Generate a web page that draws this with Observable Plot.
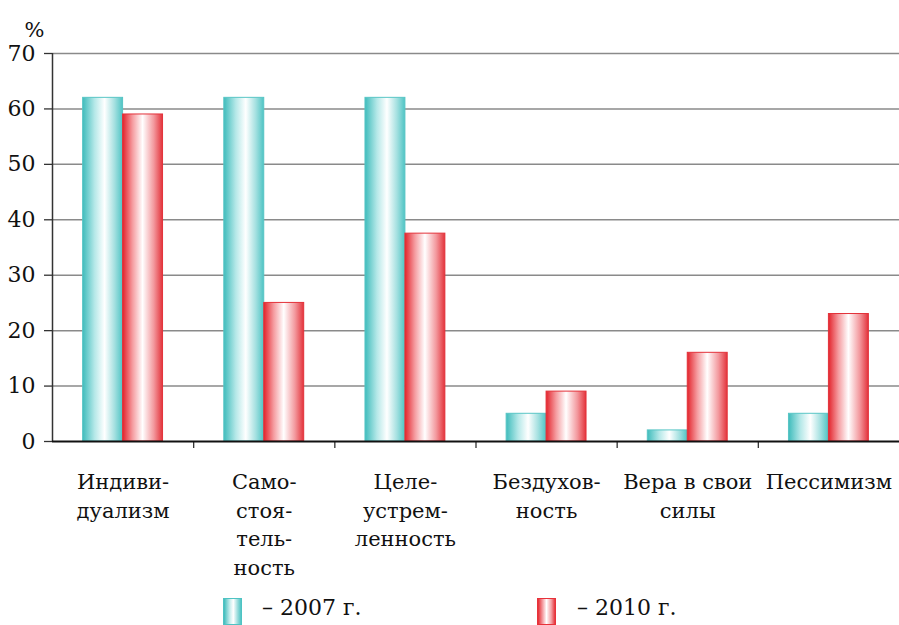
<!DOCTYPE html>
<html>
<head>
<meta charset="utf-8">
<script src="https://cdn.jsdelivr.net/npm/d3@7"></script>
<script src="https://cdn.jsdelivr.net/npm/@observablehq/plot@0.6"></script>
<style>
  body { margin: 0; background: #fff; font-family: "DejaVu Serif", serif; }
  #legend { position: relative; height: 35px; width: 899px; font-size: 22px; color: #111; }
  #legend .sw { position: absolute; top: 8px; width: 19px; height: 27px; box-sizing: border-box; }
  #legend .lb { position: absolute; top: 5px; line-height: 26px; white-space: nowrap; }
</style>
</head>
<body>
<div id="chart"></div>
<div id="legend">
  <div class="sw" style="left:223px; border:1px solid #4ec3c3; background:linear-gradient(to right,#3fbcbc 0%,#c9eeee 35%,#ffffff 55%,#9adcdc 80%,#4fc4c4 100%);"></div>
  <div class="lb" style="left:262px;">– 2007 г.</div>
  <div class="sw" style="left:537px; border:1px solid #e8323a; background:linear-gradient(to right,#e52a32 0%,#f6a9ad 30%,#ffffff 50%,#f4a0a4 78%,#e5333b 100%);"></div>
  <div class="lb" style="left:577px;">– 2010 г.</div>
</div>
<script>
const categories = ["Индивидуализм", "Самостоятельность", "Целеустремленность", "Бездуховность", "Вера в свои силы", "Пессимизм"];
const tickLabels = ["Индиви-\nдуализм", "Само-\nстоя-\nтель-\nность", "Целе-\nустрем-\nленность", "Бездухов-\nность", "Вера в свои\nсилы", "Пессимизм"];
const years = [2007, 2010];
const values2007 = [62, 62, 62, 5, 2, 5];
const values2010 = [59, 25, 37.5, 9, 16, 23];
const yTicks = [0, 10, 20, 30, 40, 50, 60, 70];

const rows2007 = categories.map((c, i) => ({i, category: c, year: 2007, value: values2007[i]}));
const rows2010 = categories.map((c, i) => ({i, category: c, year: 2010, value: values2010[i]}));
const barW = 0.283;

const plot = Plot.plot({
  width: 899,
  height: 590,
  marginLeft: 52,
  marginRight: 0,
  marginTop: 53,
  marginBottom: 149,
  style: {fontFamily: "DejaVu Serif, serif", color: "#111", background: "#fff"},
  x: {type: "linear", domain: [0, categories.length], axis: null},
  y: {domain: [0, 70], axis: null},
  color: {type: "ordinal", domain: years, range: ["url(#grad2007)", "url(#grad2010)"]},
  marks: [
    Plot.gridY(yTicks.slice(1), {stroke: "#8a8a8a", strokeOpacity: 1, strokeWidth: 1.5}),
    Plot.rectY(rows2007, {x1: d => d.i + 0.5 - barW, x2: d => d.i + 0.5, y1: 0, y2: "value", fill: "year", stroke: "#58c5c5", strokeWidth: 1}),
    Plot.rectY(rows2010, {x1: d => d.i + 0.5, x2: d => d.i + 0.5 + barW, y1: 0, y2: "value", fill: "year", stroke: "#e3323a", strokeWidth: 1}),
    Plot.axisY({ticks: yTicks, tickSize: 8, tickPadding: 9, fontSize: 22, label: null, stroke: "#333", strokeWidth: 1.3, fill: "#111"}),
    Plot.axisX({ticks: [1, 2, 3, 4, 5], tickSize: 7, tickFormat: () => "", label: null, stroke: "#333", strokeWidth: 1.3}),
    Plot.ruleX([0], {stroke: "#333", strokeWidth: 1.5}),
    Plot.ruleY([0], {stroke: "#111", strokeWidth: 1.8}),
    Plot.text(tickLabels, {x: (d, i) => i + 0.5, frameAnchor: "bottom", dy: 27, lineAnchor: "top", lineHeight: 1.37, fontSize: 21, fill: "#111", text: d => d}),
    Plot.text(["%"], {frameAnchor: "top-left", dx: -28, dy: -31, fontSize: 21, fill: "#111", text: d => d})
  ]
});

const defs = `<defs>
  <linearGradient id="grad2007" x1="0" x2="1" y1="0" y2="0">
    <stop offset="0%" stop-color="#3fbcbc"/>
    <stop offset="30%" stop-color="#b5e8e8"/>
    <stop offset="55%" stop-color="#ffffff"/>
    <stop offset="80%" stop-color="#a4e0e0"/>
    <stop offset="100%" stop-color="#4fc4c4"/>
  </linearGradient>
  <linearGradient id="grad2010" x1="0" x2="1" y1="0" y2="0">
    <stop offset="0%" stop-color="#e3242c"/>
    <stop offset="25%" stop-color="#f59ca0"/>
    <stop offset="50%" stop-color="#ffffff"/>
    <stop offset="78%" stop-color="#f3999e"/>
    <stop offset="100%" stop-color="#e3333b"/>
  </linearGradient>
</defs>`;
plot.insertAdjacentHTML("afterbegin", defs);
document.getElementById("chart").appendChild(plot);
</script>
</body>
</html>
